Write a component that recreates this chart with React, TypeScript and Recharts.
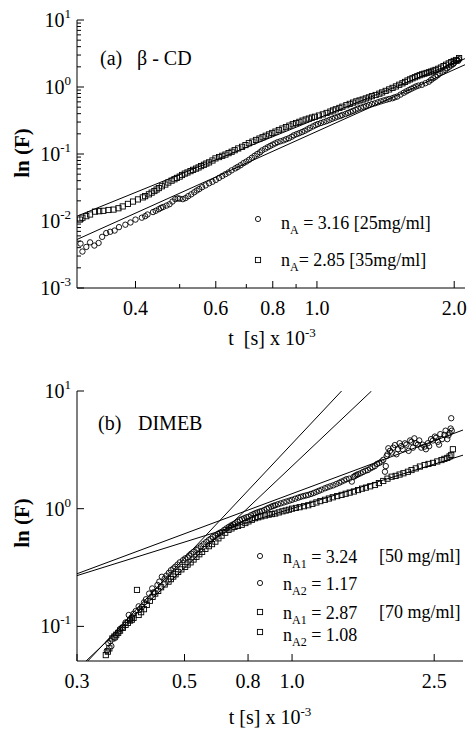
import React from 'react';
import { ScatterChart, Scatter, XAxis, YAxis } from 'recharts';

const FONT = '"Liberation Serif", "Times New Roman", serif';

// ---------- Panel (a): beta-CD ----------
const aXDomain = [0.2977, 2.112];
const aYDomain = [0.001, 10];
const aXMajor = [0.4, 0.6, 0.8, 1.0, 2.0];
const aXLabels = ['0.4', '0.6', '0.8', '1.0', '2.0'];
const aXMinor = [0.5, 0.7, 0.9];
const aYMajor = [0.001, 0.01, 0.1, 1, 10];
const aYExp = ['-3', '-2', '-1', '0', '1'];
const aYMinor = [
  0.002, 0.003, 0.004, 0.005, 0.006, 0.007, 0.008, 0.009,
  0.02, 0.03, 0.04, 0.05, 0.06, 0.07, 0.08, 0.09,
  0.2, 0.3, 0.4, 0.5, 0.6, 0.7, 0.8, 0.9,
  2, 3, 4, 5, 6, 7, 8, 9,
];

// circles, nA = 3.16 [25mg/ml]
const aCircT = [0.303, 0.306, 0.312, 0.318, 0.325, 0.332, 0.338, 0.345, 0.352, 0.36, 0.368, 0.38, 0.39, 0.4, 0.413, 0.425, 0.437, 0.45, 0.46, 0.475, 0.489, 0.5, 0.515, 0.53, 0.545, 0.56, 0.58, 0.6, 0.62, 0.64, 0.662, 0.68, 0.7, 0.72, 0.74, 0.758, 0.78, 0.8, 0.82, 0.845, 0.868, 0.89, 0.915, 0.94, 0.965, 0.993, 1.02, 1.05, 1.08, 1.11, 1.137, 1.17, 1.2, 1.23, 1.265, 1.3, 1.34, 1.38, 1.42, 1.464, 1.5, 1.55, 1.59, 1.63, 1.67, 1.7, 1.76, 1.8, 1.84, 1.886, 1.93, 1.97, 2.0, 2.03, 2.05];
const aCircF = [0.0046, 0.0035, 0.0041, 0.0048, 0.0043, 0.0047, 0.0058, 0.0066, 0.0069, 0.0072, 0.0081, 0.0088, 0.0095, 0.0105, 0.0112, 0.0125, 0.0136, 0.015, 0.0162, 0.0178, 0.0212, 0.0215, 0.022, 0.025, 0.0285, 0.032, 0.0365, 0.041, 0.047, 0.053, 0.061, 0.068, 0.077, 0.088, 0.1, 0.113, 0.126, 0.138, 0.15, 0.16, 0.172, 0.19, 0.205, 0.222, 0.245, 0.27, 0.29, 0.31, 0.335, 0.36, 0.382, 0.41, 0.44, 0.475, 0.505, 0.538, 0.57, 0.61, 0.645, 0.68, 0.72, 0.82, 0.9, 0.98, 1.05, 1.08, 1.2, 1.35, 1.5, 1.69, 1.9, 2.1, 2.3, 2.5, 2.6];
const aCircT2 = [0.42, 0.443, 0.455, 0.468, 0.482, 0.495, 0.508, 0.522, 0.538, 0.552, 0.57, 0.59, 0.61, 0.63, 0.65, 0.67, 0.69, 0.71, 0.73, 0.75, 0.77, 0.79, 0.81, 0.832, 0.856, 0.88, 0.903, 0.928, 0.953, 0.98, 1.005, 1.035, 1.065, 1.095, 1.125, 1.155, 1.185, 1.215, 1.248, 1.282, 1.32, 1.36, 1.4, 1.44, 1.48, 1.525, 1.57, 1.61, 1.65, 1.73, 1.78, 1.82, 1.86, 1.91, 1.95, 1.99, 2.04];
const aCircF2 = [0.0118, 0.0142, 0.0157, 0.017, 0.0195, 0.0218, 0.0212, 0.0235, 0.0268, 0.03, 0.034, 0.0385, 0.044, 0.05, 0.057, 0.064, 0.073, 0.082, 0.094, 0.106, 0.12, 0.132, 0.144, 0.155, 0.166, 0.181, 0.198, 0.213, 0.233, 0.258, 0.28, 0.3, 0.322, 0.348, 0.37, 0.395, 0.425, 0.457, 0.49, 0.52, 0.555, 0.59, 0.628, 0.662, 0.7, 0.77, 0.86, 0.94, 1.02, 1.14, 1.28, 1.42, 1.6, 1.8, 2.0, 2.2, 2.45];

// squares, nA = 2.85 [35mg/ml]
const aSqT = [0.302, 0.306, 0.312, 0.318, 0.326, 0.333, 0.34, 0.349, 0.358, 0.367, 0.375, 0.385, 0.395, 0.405, 0.415, 0.428, 0.44, 0.45, 0.465, 0.48, 0.493, 0.506, 0.52, 0.535, 0.55, 0.565, 0.58, 0.599, 0.62, 0.64, 0.66, 0.685, 0.709, 0.735, 0.76, 0.785, 0.811, 0.84, 0.87, 0.9, 0.93, 0.96, 0.99, 1.03, 1.07, 1.1, 1.137, 1.18, 1.22, 1.26, 1.3, 1.345, 1.39, 1.44, 1.49, 1.54, 1.58, 1.62, 1.66, 1.7, 1.74, 1.78, 1.82, 1.87, 1.92, 1.97, 2.02, 2.05];
const aSqF = [0.0105, 0.0112, 0.0118, 0.0125, 0.0138, 0.014, 0.0142, 0.0146, 0.0148, 0.0155, 0.0165, 0.018, 0.0195, 0.021, 0.0225, 0.025, 0.028, 0.031, 0.035, 0.04, 0.044, 0.0486, 0.053, 0.058, 0.063, 0.069, 0.075, 0.086, 0.094, 0.103, 0.114, 0.128, 0.145, 0.162, 0.178, 0.196, 0.216, 0.24, 0.265, 0.29, 0.315, 0.338, 0.36, 0.39, 0.43, 0.465, 0.508, 0.56, 0.61, 0.65, 0.7, 0.76, 0.83, 0.92, 1.02, 1.135, 1.25, 1.35, 1.45, 1.545, 1.62, 1.7, 1.8, 1.95, 2.15, 2.35, 2.53, 2.7];
const aSqT2 = [0.42, 0.434, 0.445, 0.457, 0.472, 0.487, 0.5, 0.513, 0.528, 0.543, 0.557, 0.572, 0.59, 0.61, 0.63, 0.65, 0.672, 0.697, 0.722, 0.748, 0.772, 0.798, 0.825, 0.855, 0.885, 0.915, 0.945, 0.975, 1.01, 1.05, 1.085, 1.12, 1.16, 1.2, 1.24, 1.28, 1.32, 1.37, 1.415, 1.465, 1.515, 1.56, 1.6, 1.64, 1.68, 1.72, 1.76, 1.8, 1.845, 1.895, 1.945, 1.995];
const aSqF2 = [0.0235, 0.0265, 0.0295, 0.033, 0.0375, 0.042, 0.046, 0.051, 0.0555, 0.0605, 0.066, 0.072, 0.08, 0.09, 0.098, 0.108, 0.121, 0.136, 0.153, 0.17, 0.187, 0.206, 0.228, 0.252, 0.278, 0.302, 0.327, 0.35, 0.375, 0.41, 0.447, 0.487, 0.535, 0.585, 0.63, 0.675, 0.73, 0.795, 0.875, 0.97, 1.08, 1.19, 1.3, 1.4, 1.5, 1.58, 1.66, 1.75, 1.87, 2.05, 2.25, 2.45];

const aCircFitT = [0.2977, 2.112];
const aCircFitF = [0.0053, 2.15];
const aSqFitT = [0.2977, 2.112];
const aSqFitF = [0.0118, 2.65];

// ---------- Panel (b): DIMEB ----------
const bXDomain = [0.25, 3.01];
const bYDomain = [0.0508, 10];
const bXTicks = [0.25, 0.5, 0.753, 1.0, 2.5];
const bXLabels = ['0.3', '0.5', '0.8', '1.0', '2.5'];
const bYMajor = [0.1, 1, 10];
const bYExp = ['-1', '0', '1'];

// circles [50 mg/ml]
const bCircT = [0.303, 0.306, 0.312, 0.32, 0.327, 0.335, 0.342, 0.349, 0.356, 0.365, 0.372, 0.38, 0.39, 0.398, 0.406, 0.42, 0.432, 0.445, 0.458, 0.471, 0.485, 0.502, 0.515, 0.53, 0.547, 0.565, 0.584, 0.6, 0.62, 0.637, 0.655, 0.675, 0.693, 0.715, 0.735, 0.755, 0.78, 0.8, 0.823, 0.85, 0.875, 0.897, 0.93, 0.965, 1.0, 1.04, 1.075, 1.11, 1.15, 1.19, 1.236, 1.28, 1.33, 1.376, 1.42, 1.47, 1.5, 1.53, 1.58, 1.63, 1.68, 1.73, 1.78, 1.82, 1.84, 1.86, 1.9, 1.94, 1.98, 2.02, 2.07, 2.12, 2.16, 2.2, 2.25, 2.3, 2.35, 2.4, 2.45, 2.51, 2.56, 2.6, 2.67, 2.72, 2.76, 2.79, 2.8];
const bCircF = [0.062, 0.072, 0.068, 0.08, 0.09, 0.098, 0.108, 0.125, 0.12, 0.135, 0.148, 0.147, 0.17, 0.19, 0.21, 0.225, 0.264, 0.27, 0.3, 0.321, 0.35, 0.378, 0.4, 0.43, 0.46, 0.5, 0.54, 0.575, 0.61, 0.638, 0.68, 0.72, 0.75, 0.8, 0.83, 0.855, 0.9, 0.93, 0.955, 1.0, 1.04, 1.07, 1.11, 1.15, 1.19, 1.24, 1.28, 1.31, 1.36, 1.42, 1.49, 1.55, 1.62, 1.7, 1.78, 1.7, 1.9, 1.96, 2.05, 2.13, 2.25, 2.4, 2.51, 2.06, 2.8, 3.26, 3.0, 3.47, 3.2, 3.4, 3.59, 3.1, 3.7, 3.96, 3.5, 3.3, 3.37, 3.6, 3.9, 4.1, 3.7, 4.3, 4.23, 3.9, 4.4, 5.87, 4.6];
const bCircT2 = [0.31, 0.33, 0.352, 0.36, 0.375, 0.385, 0.41, 0.425, 0.44, 0.452, 0.465, 0.478, 0.495, 0.51, 0.522, 0.54, 0.556, 0.575, 0.592, 0.61, 0.628, 0.646, 0.665, 0.684, 0.704, 0.725, 0.745, 0.768, 0.79, 0.812, 0.836, 0.862, 0.886, 0.913, 0.948, 0.983, 1.02, 1.057, 1.093, 1.13, 1.17, 1.21, 1.257, 1.305, 1.355, 1.4, 1.445, 1.485, 1.515, 1.555, 1.605, 1.655, 1.705, 1.755, 1.8, 1.83, 1.85, 1.88, 1.92, 1.96, 2.0, 2.04, 2.09, 2.14, 2.18, 2.22, 2.27, 2.32, 2.37, 2.42, 2.48, 2.53, 2.58, 2.63, 2.69, 2.74, 2.78];
const bCircF2 = [0.075, 0.095, 0.115, 0.128, 0.14, 0.16, 0.195, 0.24, 0.255, 0.285, 0.31, 0.335, 0.365, 0.385, 0.415, 0.445, 0.48, 0.52, 0.555, 0.59, 0.625, 0.66, 0.7, 0.735, 0.775, 0.815, 0.845, 0.88, 0.915, 0.945, 0.975, 1.02, 1.055, 1.09, 1.13, 1.17, 1.215, 1.26, 1.295, 1.335, 1.39, 1.45, 1.52, 1.58, 1.66, 1.74, 1.8, 1.86, 1.93, 2.0, 2.1, 2.2, 2.3, 2.45, 2.6, 2.3, 2.9, 3.1, 3.3, 2.9, 3.6, 3.2, 3.5, 3.8, 3.3, 3.6, 3.8, 3.5, 3.2, 3.4, 3.8, 4.0, 3.5, 3.9, 4.6, 4.2, 4.8];

// squares [70 mg/ml]
const bSqT = [0.301, 0.308, 0.314, 0.322, 0.33, 0.342, 0.352, 0.36, 0.368, 0.372, 0.385, 0.4, 0.414, 0.43, 0.451, 0.465, 0.48, 0.502, 0.52, 0.54, 0.56, 0.585, 0.61, 0.635, 0.664, 0.69, 0.723, 0.755, 0.788, 0.82, 0.86, 0.897, 0.94, 0.98, 1.0, 1.05, 1.11, 1.17, 1.236, 1.3, 1.376, 1.45, 1.53, 1.61, 1.706, 1.8, 1.9, 2.0, 2.11, 2.22, 2.35, 2.48, 2.62, 2.72, 2.79, 2.82];
const bSqF = [0.057, 0.065, 0.079, 0.085, 0.092, 0.103, 0.112, 0.118, 0.204, 0.125, 0.14, 0.165, 0.19, 0.215, 0.24, 0.265, 0.29, 0.32, 0.35, 0.39, 0.43, 0.48, 0.525, 0.59, 0.66, 0.7, 0.73, 0.78, 0.83, 0.86, 0.89, 0.91, 0.95, 0.98, 1.0, 1.03, 1.07, 1.13, 1.19, 1.25, 1.31, 1.37, 1.44, 1.51, 1.59, 1.72, 1.87, 1.95, 2.06, 2.2, 2.35, 2.45, 2.59, 2.7, 2.86, 3.2];
const bSqT2 = [0.305, 0.318, 0.326, 0.336, 0.347, 0.356, 0.378, 0.392, 0.407, 0.422, 0.44, 0.458, 0.472, 0.49, 0.51, 0.53, 0.55, 0.572, 0.597, 0.622, 0.65, 0.677, 0.706, 0.74, 0.772, 0.804, 0.84, 0.878, 0.918, 0.96, 1.025, 1.08, 1.14, 1.2, 1.268, 1.338, 1.413, 1.49, 1.57, 1.655, 1.75, 1.85, 1.95, 2.05, 2.16, 2.28, 2.41, 2.55, 2.67, 2.76];
const bSqF2 = [0.061, 0.082, 0.088, 0.097, 0.107, 0.114, 0.132, 0.152, 0.178, 0.2, 0.227, 0.252, 0.277, 0.305, 0.335, 0.37, 0.41, 0.455, 0.5, 0.56, 0.625, 0.68, 0.715, 0.755, 0.805, 0.845, 0.875, 0.9, 0.93, 0.965, 1.015, 1.05, 1.1, 1.16, 1.22, 1.28, 1.34, 1.4, 1.48, 1.55, 1.65, 1.8, 1.9, 2.0, 2.13, 2.28, 2.4, 2.52, 2.65, 2.78];

const bCircSteepT = [0.268, 1.376];
const bCircSteepF = [0.0508, 10];
const bSqSteepT = [0.265, 1.669];
const bSqSteepF = [0.0508, 10];
const bCircShallowT = [0.25, 3.01];
const bCircShallowF = [0.28, 4.66];
const bSqShallowT = [0.25, 3.01];
const bSqShallowF = [0.27, 2.85];

const zip = (t: number[], f: number[]) => t.map((v, i) => ({ t: v, f: f[i] }));

const Circ = (p: any) =>
  p.cx == null ? <g /> : <circle cx={p.cx} cy={p.cy} r={2.7} fill="none" stroke="#000" strokeWidth={0.9} />;
const Sq = (p: any) =>
  p.cx == null ? <g /> : <rect x={p.cx - 2.6} y={p.cy - 2.6} width={5.2} height={5.2} fill="none" stroke="#000" strokeWidth={0.9} />;
const NoShape = () => <g />;

const makeLeftTick = (major: number[], exps: string[]) => (p: any) => {
  const i = major.indexOf(p.payload.value);
  const isMajor = i >= 0;
  const len = isMajor ? 7 : 4;
  return (
    <g>
      <line x1={p.x} y1={p.y} x2={p.x + len} y2={p.y} stroke="#000" strokeWidth={1} />
      {isMajor && (
        <text x={p.x - 6} y={p.y + 7} textAnchor="end" fontFamily={FONT} fontSize={20} fill="#000">
          10<tspan dy={-9} fontSize={13}>{exps[i]}</tspan>
        </text>
      )}
    </g>
  );
};
const makeRightTick = (major: number[]) => (p: any) => {
  const len = major.indexOf(p.payload.value) >= 0 ? 7 : 4;
  return <line x1={p.x} y1={p.y} x2={p.x - len} y2={p.y} stroke="#000" strokeWidth={1} />;
};
const makeBottomTick = (major: number[], labels: string[]) => (p: any) => {
  const i = major.indexOf(p.payload.value);
  const isMajor = i >= 0;
  const len = isMajor ? 7 : 4;
  return (
    <g>
      <line x1={p.x} y1={p.y} x2={p.x} y2={p.y - len} stroke="#000" strokeWidth={1} />
      {isMajor && (
        <text x={p.x} y={p.y + 27} textAnchor="middle" fontFamily={FONT} fontSize={20} fill="#000">
          {labels[i]}
        </text>
      )}
    </g>
  );
};
const makeTopTick = (major: number[]) => (p: any) => {
  const len = major.indexOf(p.payload.value) >= 0 ? 7 : 4;
  return <line x1={p.x} y1={p.y} x2={p.x} y2={p.y + len} stroke="#000" strokeWidth={1} />;
};

const axisCommon = {
  type: 'number' as const,
  scale: 'log' as const,
  allowDataOverflow: true,
  interval: 0 as const,
  tickSize: 0,
  tickMargin: 0,
  tickLine: false,
  axisLine: { stroke: '#000', strokeWidth: 1 },
};

const lineProps = { stroke: '#000', strokeWidth: 1 };

function PanelA() {
  const xt = [...aXMajor, ...aXMinor];
  const yt = [...aYMajor, ...aYMinor];
  return (
    <ScatterChart width={469} height={345} margin={{ top: 20, right: 4, bottom: 0, left: 0 }}>
      <XAxis {...axisCommon} xAxisId="b" dataKey="t" domain={aXDomain} ticks={xt} height={57} tick={makeBottomTick(aXMajor, aXLabels)} />
      <XAxis {...axisCommon} xAxisId="t" orientation="top" dataKey="t" domain={aXDomain} ticks={xt} height={0} tick={makeTopTick(aXMajor)} />
      <YAxis {...axisCommon} yAxisId="l" dataKey="f" domain={aYDomain} ticks={yt} width={77} tick={makeLeftTick(aYMajor, aYExp)} />
      <YAxis {...axisCommon} yAxisId="r" orientation="right" dataKey="f" domain={aYDomain} ticks={yt} width={0} tick={makeRightTick(aYMajor)} />
      <Scatter xAxisId="b" yAxisId="l" data={zip(aCircFitT, aCircFitF)} line={lineProps} stroke="#000" shape={NoShape} isAnimationActive={false} />
      <Scatter xAxisId="b" yAxisId="l" data={zip(aSqFitT, aSqFitF)} line={lineProps} stroke="#000" shape={NoShape} isAnimationActive={false} />
      <Scatter xAxisId="b" yAxisId="l" data={[...zip(aCircT, aCircF), ...zip(aCircT2, aCircF2)]} shape={Circ} isAnimationActive={false} />
      <Scatter xAxisId="b" yAxisId="l" data={[...zip(aSqT, aSqF), ...zip(aSqT2, aSqF2)]} shape={Sq} isAnimationActive={false} />
    </ScatterChart>
  );
}

function PanelB() {
  return (
    <ScatterChart width={469} height={360} margin={{ top: 20, right: 6, bottom: 0, left: 0 }}>
      <XAxis {...axisCommon} xAxisId="b" dataKey="t" domain={bXDomain} ticks={bXTicks} height={70} tick={makeBottomTick(bXTicks, bXLabels)} />
      <XAxis {...axisCommon} xAxisId="t" orientation="top" dataKey="t" domain={bXDomain} ticks={bXTicks} height={0} tick={makeTopTick(bXTicks)} />
      <YAxis {...axisCommon} yAxisId="l" dataKey="f" domain={bYDomain} ticks={bYMajor} width={77} tick={makeLeftTick(bYMajor, bYExp)} />
      <YAxis {...axisCommon} yAxisId="r" orientation="right" dataKey="f" domain={bYDomain} ticks={bYMajor} width={0} tick={makeRightTick(bYMajor)} />
      <Scatter xAxisId="b" yAxisId="l" data={zip(bCircSteepT, bCircSteepF)} line={lineProps} stroke="#000" shape={NoShape} isAnimationActive={false} />
      <Scatter xAxisId="b" yAxisId="l" data={zip(bSqSteepT, bSqSteepF)} line={lineProps} stroke="#000" shape={NoShape} isAnimationActive={false} />
      <Scatter xAxisId="b" yAxisId="l" data={zip(bCircShallowT, bCircShallowF)} line={lineProps} stroke="#000" shape={NoShape} isAnimationActive={false} />
      <Scatter xAxisId="b" yAxisId="l" data={zip(bSqShallowT, bSqShallowF)} line={lineProps} stroke="#000" shape={NoShape} isAnimationActive={false} />
      <Scatter xAxisId="b" yAxisId="l" data={[...zip(bCircT, bCircF), ...zip(bCircT2, bCircF2)]} shape={Circ} isAnimationActive={false} />
      <Scatter xAxisId="b" yAxisId="l" data={[...zip(bSqT, bSqF), ...zip(bSqT2, bSqF2)]} shape={Sq} isAnimationActive={false} />
    </ScatterChart>
  );
}

const T = (props: any) => <text fontFamily={FONT} fill="#000" {...props} />;

function Overlay() {
  return (
    <svg width={469} height={731} style={{ position: 'absolute', left: 0, top: 0, pointerEvents: 'none' }}>
      {/* Panel (a) */}
      <T x={100} y={65} fontSize={20}>(a)</T>
      <T x={137} y={65} fontSize={20}>β - CD</T>
      <T transform="translate(29,153) rotate(-90)" textAnchor="middle" fontSize={21} fontWeight="bold">ln (F)</T>
      <T x={272} y={345} textAnchor="middle" fontSize={20} xmlSpace="preserve">
        t  [s] x 10<tspan dy={-8} fontSize={13}>-3</tspan>
      </T>
      <circle cx={258} cy={219} r={2.6} fill="none" stroke="#000" strokeWidth={0.9} />
      <T x={281} y={229} fontSize={18}>
        n<tspan dy={5} fontSize={12}>A</tspan><tspan dy={-5}> = 3.16 [25mg/ml]</tspan>
      </T>
      <rect x={255.4} y={257.4} width={5.2} height={5.2} fill="none" stroke="#000" strokeWidth={0.9} />
      <T x={281} y={266} fontSize={18}>
        n<tspan dy={5} fontSize={12}>A</tspan><tspan dy={-5}>= 2.85 [35mg/ml]</tspan>
      </T>

      {/* Panel (b) */}
      <T x={98} y={430} fontSize={20}>(b)</T>
      <T x={138} y={430} fontSize={20}>DIMEB</T>
      <T transform="translate(29,523) rotate(-90)" textAnchor="middle" fontSize={21} fontWeight="bold">ln (F)</T>
      <T x={270} y={724} textAnchor="middle" fontSize={20}>
        t [s] x 10<tspan dy={-8} fontSize={13}>-3</tspan>
      </T>
      <circle cx={260} cy={556} r={2.6} fill="none" stroke="#000" strokeWidth={0.9} />
      <T x={283} y={563} fontSize={18}>
        n<tspan dy={5} fontSize={12}>A1</tspan><tspan dy={-5}> = 3.24</tspan>
      </T>
      <T x={379} y={562} fontSize={18}>[50 mg/ml]</T>
      <circle cx={260} cy={583} r={2.6} fill="none" stroke="#000" strokeWidth={0.9} />
      <T x={283} y={590} fontSize={18}>
        n<tspan dy={5} fontSize={12}>A2</tspan><tspan dy={-5}> = 1.17</tspan>
      </T>
      <rect x={257.4} y={609.4} width={5.2} height={5.2} fill="none" stroke="#000" strokeWidth={0.9} />
      <T x={283} y={619} fontSize={18}>
        n<tspan dy={5} fontSize={12}>A1</tspan><tspan dy={-5}> = 2.87</tspan>
      </T>
      <T x={379} y={618} fontSize={18}>[70 mg/ml]</T>
      <rect x={257.4} y={629.4} width={5.2} height={5.2} fill="none" stroke="#000" strokeWidth={0.9} />
      <T x={283} y={641} fontSize={18}>
        n<tspan dy={5} fontSize={12}>A2</tspan><tspan dy={-5}> = 1.08</tspan>
      </T>
    </svg>
  );
}

export default function App() {
  return (
    <div style={{ position: 'absolute', left: 0, top: 0, width: 469, height: 731, background: '#fff' }}>
      <div style={{ position: 'absolute', left: 0, top: 0 }}>
        <PanelA />
      </div>
      <div style={{ position: 'absolute', left: 0, top: 371 }}>
        <PanelB />
      </div>
      <Overlay />
    </div>
  );
}
